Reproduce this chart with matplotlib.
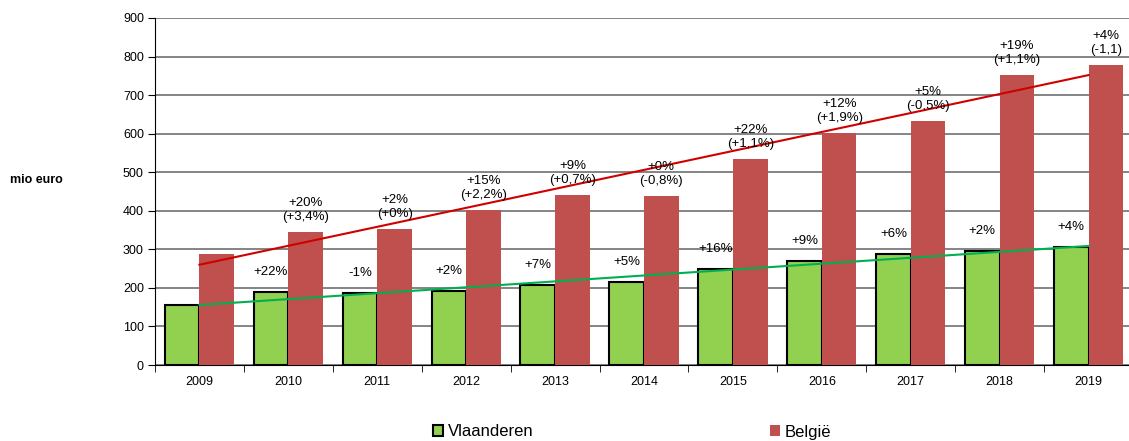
import numpy as np
import matplotlib
matplotlib.use('Agg')
import matplotlib.pyplot as plt

plt.rcParams['font.family'] = ['Liberation Sans', 'DejaVu Sans']

# data (mio euro)
years = ['2009', '2010', '2011', '2012', '2013', '2014', '2015', '2016', '2017', '2018', '2019']
vlaanderen = [155, 189, 187, 192, 207, 215, 249, 270, 288, 296, 306]
belgie = [288, 345, 353, 402, 441, 438, 534, 602, 633, 752, 778]
vl_labels = ['', '+22%', '-1%', '+2%', '+7%', '+5%', '+16%', '+9%', '+6%', '+2%', '+4%']
be_labels = ['', '+20%\n(+3,4%)', '+2%\n(+0%)', '+15%\n(+2,2%)', '+9%\n(+0,7%)',
             '+0%\n(-0,8%)', '+22%\n(+1,1%)', '+12%\n(+1,9%)', '+5%\n(-0,5%)',
             '+19%\n(+1,1%)', '+4%\n(-1,1)']

green = '#92D050'
red = '#C0504D'

fig = plt.figure(figsize=(11.29, 4.41), dpi=100)
ax = fig.add_axes([155/1129, 1-365/441, 978/1129, 347/441])

x = np.arange(len(years))
w = 0.39
ax.bar(x - w/2, vlaanderen, w, color=green, edgecolor='black', linewidth=1.5, zorder=3, label='Vlaanderen')
ax.bar(x + w/2, belgie, w, color=red, linewidth=0, zorder=3, label='België')

# linear trend lines
for vals, col in [(belgie, '#D00000'), (vlaanderen, '#00B050')]:
    k, b = np.polyfit(x, vals, 1)
    ax.plot([x[0], x[-1]], [b, b + k*x[-1]], color=col, lw=1.5, zorder=4)

for i in range(len(years)):
    if vl_labels[i]:
        ax.annotate(vl_labels[i], (x[i] - w/2, vlaanderen[i]), xytext=(0, 10),
                    textcoords='offset points', ha='center', va='bottom', fontsize=9.5, zorder=5)
    if be_labels[i]:
        ax.annotate(be_labels[i], (x[i] + w/2, belgie[i]), xytext=(0, 6.5),
                    textcoords='offset points', ha='center', va='bottom', fontsize=9.5,
                    linespacing=1.2, zorder=5)

ax.set_xlim(-0.5, len(years) - 0.5)
ax.set_ylim(0, 900)
ax.set_yticks(range(0, 901, 100))
ax.set_xticks(x)
ax.set_xticklabels(years, fontsize=9)
ax.set_xticks(np.arange(-0.5, len(years), 1), minor=True)
ax.tick_params(axis='x', which='major', length=0, pad=8)
ax.tick_params(axis='x', which='minor', length=5, direction='out', color='black')
ax.tick_params(axis='y', length=5, direction='out', labelsize=9, pad=3)
ax.yaxis.grid(True, color='#6f6f6f', lw=1.2, zorder=0)
ax.set_axisbelow(True)
for s in ['top', 'right']:
    ax.spines[s].set_visible(False)
ax.spines['left'].set_color('black')
ax.spines['bottom'].set_color('black')

fig.text(10/1129, 1-180/441, 'mio euro', fontsize=9, fontweight='bold', va='center', ha='left')

fig.legend(loc='center', bbox_to_anchor=(632/1129, 1-432/441), ncol=2, frameon=False,
           fontsize=12, handlelength=0.6, handleheight=0.6, handletextpad=0.3,
           columnspacing=14.2)

fig.savefig('out.png', dpi=100)
